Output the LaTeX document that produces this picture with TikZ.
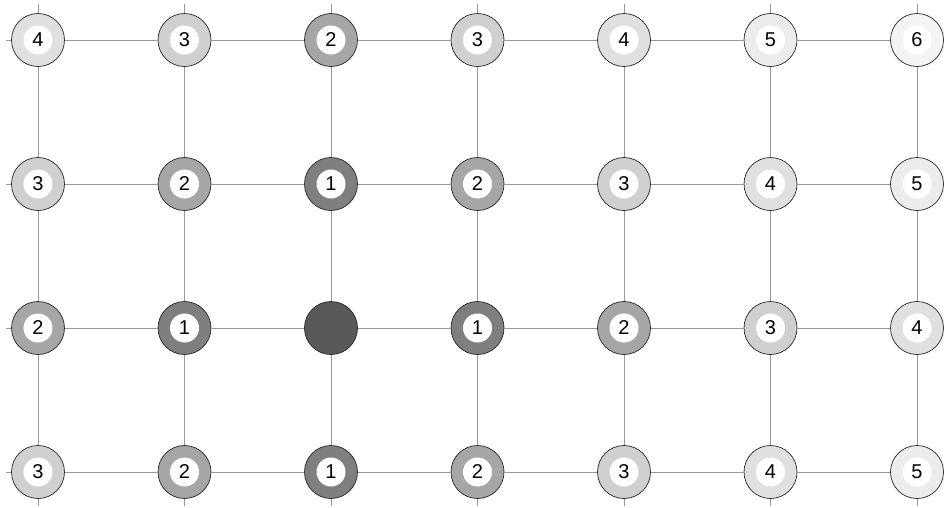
\documentclass[tikz,border=0pt]{standalone}
\usepackage{fontspec}
\setmainfont{Liberation Sans}

\definecolor{dist0}{HTML}{595959}
\definecolor{dist1}{HTML}{7F7F7F}
\definecolor{dist2}{HTML}{A6A6A6}
\definecolor{dist3}{HTML}{D0D0D0}
\definecolor{dist4}{HTML}{E0E0E0}
\definecolor{dist5}{HTML}{ECECEC}
\definecolor{dist6}{HTML}{F4F4F4}

\begin{document}
\begin{tikzpicture}[x=1pt,y=-1pt,
    cell/.style={circle,draw=black!85,line width=0.7pt,minimum size=53pt,inner sep=0pt},
    hole/.style={circle,fill=white,minimum size=29pt,inner sep=0pt,
                 font=\fontsize{20}{20}\selectfont},
    link/.style={draw=gray!80,line width=0.8pt}]

\useasboundingbox (0,0) rectangle (944,507);

% ===== Cells (distance from the dark cell) =====
\foreach \c in {0,...,6} {
    \foreach \r in {0,...,3} {
        \pgfmathtruncatemacro{\d}{abs(\c-2)+abs(\r-2)}
        \node[cell,fill=dist\d] (n\c\r) at (38+146.5*\c,40+144*\r) {};
        \ifnum\d>0
            \node[hole] (t\c\r) at (n\c\r) {\d};
        \fi
    }
}

% ===== Horizontal links =====
\foreach \c [count=\cc] in {0,...,5} {
    \foreach \r in {0,...,3} {
        \draw[link] (n\c\r) -- (n\cc\r);
    }
}

% ===== Vertical links =====
\foreach \r [count=\rr] in {0,1,2} {
    \foreach \c in {0,...,6} {
        \draw[link] (n\c\r) -- (n\c\rr);
    }
}

% ===== Stubs at the border =====
\foreach \r in {0,...,3} {
    \draw[link] (n0\r.west) -- ++(-5,0);
}
\foreach \c in {0,...,6} {
    \draw[link] (n\c0.north) -- ++(0,-9);
    \draw[link] (n\c3.south) -- ++(0,7);
}

\end{tikzpicture}
\end{document}
